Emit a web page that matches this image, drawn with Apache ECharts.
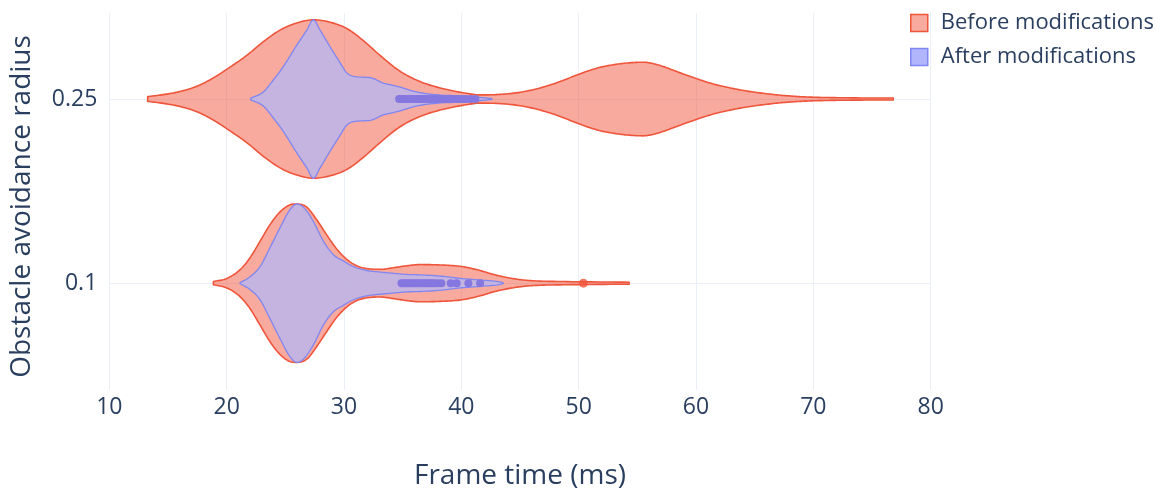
<!DOCTYPE html>
<html>
<head>
<meta charset="utf-8">
<script src="https://cdn.jsdelivr.net/npm/echarts@6/dist/echarts.min.js"></script>
<style>
html,body{margin:0;padding:0;background:#fff;}
#chart{width:1167px;height:495px;}
</style>
</head>
<body>
<div id="chart"></div>
<script>
// ---- data ----
const categories = ['0.1', '0.25'];
const seriesNames = ['Before modifications', 'After modifications'];
const xTicks = [10, 20, 30, 40, 50, 60, 70, 80];

// Violin profiles: frame time (ms) and relative density (peak = 1)
const beforeX_025 = [13.27, 14.60, 16.03, 17.45, 18.80, 20.06, 21.71, 23.10, 24.55, 25.98, 27.39, 28.81, 30.24, 31.63, 33.08, 34.78, 36.49, 38.19, 40.13, 41.60, 43.31, 45.01, 46.72, 48.42, 50.13, 51.83, 53.54, 54.60, 55.50, 56.40, 57.20, 58.65, 60.19, 61.47, 62.92, 64.36, 65.73, 67.18, 68.63, 70.16, 72.89, 76.81];
const beforeD_025 = [0.03, 0.055, 0.095, 0.16, 0.26, 0.38, 0.55, 0.72, 0.87, 0.96, 1.00, 0.97, 0.89, 0.74, 0.55, 0.35, 0.22, 0.14, 0.08, 0.052, 0.058, 0.085, 0.14, 0.22, 0.32, 0.40, 0.445, 0.46, 0.465, 0.445, 0.41, 0.33, 0.25, 0.19, 0.14, 0.10, 0.072, 0.048, 0.032, 0.022, 0.015, 0.012];

const afterX_025 = [22.05, 23.13, 23.98, 24.83, 25.98, 26.83, 27.39, 27.96, 28.81, 29.66, 30.24, 31.09, 32.23, 33.36, 33.93, 34.78, 35.64, 36.49, 38.19, 39.90, 41.60, 42.60];
const afterD_025 = [0.01, 0.09, 0.24, 0.41, 0.68, 0.87, 1.00, 0.87, 0.66, 0.46, 0.33, 0.28, 0.27, 0.20, 0.18, 0.15, 0.11, 0.08, 0.05, 0.04, 0.02, 0.006];

const beforeX_01 = [18.87, 20.01, 21.14, 21.99, 22.85, 23.70, 24.55, 25.41, 25.98, 26.83, 27.68, 28.53, 29.39, 30.24, 31.09, 31.94, 33.08, 34.21, 35.35, 36.49, 38.19, 40.04, 41.60, 42.74, 43.88, 45.01, 46.15, 48.99, 54.30];
const beforeD_01 = [0.02, 0.06, 0.17, 0.32, 0.53, 0.74, 0.90, 0.99, 1.00, 0.96, 0.80, 0.61, 0.43, 0.30, 0.22, 0.185, 0.175, 0.195, 0.22, 0.235, 0.23, 0.21, 0.16, 0.11, 0.072, 0.045, 0.03, 0.02, 0.012];

const afterX_01 = [21.14, 21.99, 22.85, 23.70, 24.55, 25.41, 25.98, 26.54, 27.39, 28.24, 29.10, 29.95, 30.80, 31.94, 33.08, 34.21, 35.35, 36.49, 38.19, 39.90, 41.60, 43.31, 43.56];
const afterD_01 = [0.006, 0.08, 0.21, 0.45, 0.70, 0.93, 1.00, 0.96, 0.78, 0.53, 0.36, 0.28, 0.21, 0.16, 0.14, 0.125, 0.11, 0.105, 0.09, 0.06, 0.04, 0.016, 0.006];

// Outlier points (frame time, ms)
const afterOutliers_025 = [34.7, 34.9, 35.1, 35.3, 35.5, 35.7, 35.9, 36.1, 36.3, 36.5, 36.7, 36.9, 37.1, 37.3, 37.5, 37.8, 38.1, 38.3, 38.6, 38.9, 39.2, 39.5, 39.8, 40.1, 40.4, 40.8, 41.2];
const afterOutliers_01 = [34.9, 35.1, 35.3, 35.5, 35.7, 35.9, 36.1, 36.3, 36.5, 36.7, 36.9, 37.1, 37.3, 37.5, 37.7, 38.0, 38.3, 39.1, 39.6, 40.6, 41.6];
const beforeOutliers_01 = [50.4];

// ---- styling ----
const TEXT = '#2a3f5f';
const GRID = '#EBF0F8';
const FONT = '"Open Sans", "Noto Sans", sans-serif';
const beforeLine = '#EF553B', beforeFill = 'rgba(239,85,59,0.5)';
const afterLine = '#7F86F2', afterFill = 'rgba(99,110,250,0.5)';
const afterViolinFill = 'rgba(182,182,240,0.8)';
const WIDTH_FRAC = 0.43;

const violins = {
  before: [ {x: beforeX_01, d: beforeD_01, cat: 0}, {x: beforeX_025, d: beforeD_025, cat: 1} ],
  after:  [ {x: afterX_01, d: afterD_01, cat: 0}, {x: afterX_025, d: afterD_025, cat: 1} ]
};

// Monotone cubic (Fritsch-Carlson) tangents, used only to draw a smooth outline
function monotoneTangents(xs, ys) {
  const n = xs.length, d = [], m = new Array(n);
  for (let i = 0; i < n - 1; i++) d.push((ys[i + 1] - ys[i]) / (xs[i + 1] - xs[i]));
  m[0] = d[0]; m[n - 1] = d[n - 2];
  for (let i = 1; i < n - 1; i++) m[i] = (d[i - 1] * d[i] <= 0) ? 0 : (d[i - 1] + d[i]) / 2;
  for (let i = 0; i < n - 1; i++) {
    if (d[i] === 0) { m[i] = 0; m[i + 1] = 0; continue; }
    const a = m[i] / d[i], b = m[i + 1] / d[i], s = a * a + b * b;
    if (s > 9) { const t = 3 / Math.sqrt(s); m[i] = t * a * d[i]; m[i + 1] = t * b * d[i]; }
  }
  return m;
}

function violinRender(list, fill, stroke, lw) {
  return function (params, api) {
    const v = list[params.dataIndex];
    const cat = api.value(1);
    const unit = api.size([0, 1])[1];
    const half = WIDTH_FRAC * unit;
    const m = monotoneTangents(v.x, v.d);
    const upper = [], lower = [];
    const push = (xv, dv) => {
      const c = api.coord([xv, cat]);
      const h = Math.max(dv, 0) * half;
      upper.push([c[0], c[1] - h]);
      lower.push([c[0], c[1] + h]);
    };
    const STEPS = 10;
    for (let i = 0; i < v.x.length - 1; i++) {
      const x0 = v.x[i], x1 = v.x[i + 1], hgt = x1 - x0;
      for (let s = 0; s < STEPS; s++) {
        const t = s / STEPS, t2 = t * t, t3 = t2 * t;
        const val = (2 * t3 - 3 * t2 + 1) * v.d[i] + (t3 - 2 * t2 + t) * hgt * m[i] +
                    (-2 * t3 + 3 * t2) * v.d[i + 1] + (t3 - t2) * hgt * m[i + 1];
        push(x0 + t * hgt, val);
      }
    }
    push(v.x[v.x.length - 1], v.d[v.d.length - 1]);
    const pts = upper.concat(lower.reverse());
    return {
      type: 'polygon',
      shape: { points: pts },
      style: { fill: fill, stroke: stroke, lineWidth: lw, lineJoin: 'round' }
    };
  };
}

const chart = echarts.init(document.getElementById('chart'), null, { renderer: 'canvas' });
chart.setOption({
  animation: false,
  backgroundColor: '#fff',
  textStyle: { fontFamily: FONT },
  grid: { left: 109.3, right: 236.3, top: 13, bottom: 105, containLabel: false },
  legend: {
    orient: 'vertical',
    left: 905, top: 6,
    itemWidth: 17, itemHeight: 17,
    itemGap: 10,
    icon: 'rect',
    selectedMode: false,
    textStyle: { color: TEXT, fontSize: 22, fontFamily: FONT, padding: [0, 0, 0, 8], lineHeight: 24 },
    data: [
      { name: seriesNames[0], itemStyle: { color: beforeFill, borderColor: beforeLine, borderWidth: 1.5 } },
      { name: seriesNames[1], itemStyle: { color: afterFill, borderColor: afterLine, borderWidth: 1.5 } }
    ]
  },
  xAxis: {
    type: 'value', min: xTicks[0], max: xTicks[xTicks.length - 1], interval: 10,
    name: 'Frame time (ms)', nameLocation: 'middle', nameGap: 72,
    nameTextStyle: { color: TEXT, fontSize: 28, fontFamily: FONT },
    axisLine: { show: false }, axisTick: { show: false },
    axisLabel: { color: TEXT, fontSize: 23, fontFamily: FONT, margin: 6 },
    splitLine: { show: true, lineStyle: { color: GRID, width: 1 } }
  },
  yAxis: {
    type: 'value', min: -0.58, max: 1.467,
    name: 'Obstacle avoidance radius', nameLocation: 'middle', nameGap: 73,
    nameTextStyle: { color: TEXT, fontSize: 28, fontFamily: FONT, padding: [0, 10, 0, 0] },
    axisLine: { show: false },
    axisTick: { show: false, customValues: [0, 1] },
    axisLabel: { color: TEXT, fontSize: 23, fontFamily: FONT, margin: 12, customValues: [0, 1],
      formatter: function (v) { return categories[Math.round(v)]; } },
    splitLine: { show: true, lineStyle: { color: GRID, width: 1 } }
  },
  series: [
    {
      type: 'custom', name: seriesNames[0],
      itemStyle: { color: beforeFill, borderColor: beforeLine },
      data: violins.before.map(v => [v.x[0], v.cat]),
      encode: { x: 0, y: 1 },
      renderItem: violinRender(violins.before, beforeFill, beforeLine, 1.6),
      z: 2
    },
    {
      type: 'custom', name: seriesNames[1],
      itemStyle: { color: afterFill, borderColor: afterLine },
      data: violins.after.map(v => [v.x[0], v.cat]),
      encode: { x: 0, y: 1 },
      renderItem: violinRender(violins.after, afterViolinFill, afterLine, 1.3),
      z: 3
    },
    {
      type: 'scatter', name: seriesNames[1],
      symbolSize: 8,
      itemStyle: { color: '#8577E0', opacity: 1 },
      data: afterOutliers_025.map(x => [x, 1]).concat(afterOutliers_01.map(x => [x, 0])),
      z: 4
    },
    {
      type: 'scatter', name: seriesNames[0],
      symbolSize: 9,
      itemStyle: { color: beforeLine },
      data: beforeOutliers_01.map(x => [x, 0]),
      z: 4
    }
  ]
});
</script>
</body>
</html>
